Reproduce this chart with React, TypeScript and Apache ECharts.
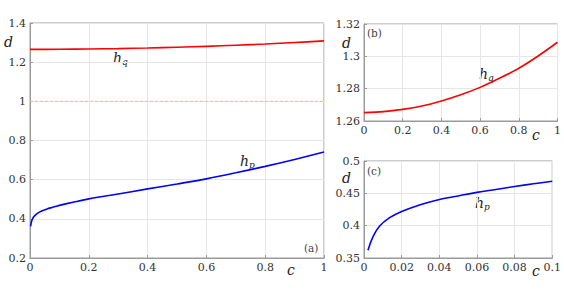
import React, { useEffect, useRef } from "react";
import * as echarts from "echarts";

const hqC = [0, 0.1, 0.2, 0.3, 0.4, 0.5, 0.6, 0.7, 0.8, 0.9, 1.0];
const hqD = [1.2652, 1.2658, 1.2672, 1.2693, 1.2724, 1.2762, 1.2808, 1.2864, 1.2926, 1.3002, 1.3087];

const hpC = [0.0021, 0.0048, 0.0082, 0.0134, 0.02, 0.029, 0.038, 0.05, 0.06, 0.07, 0.08, 0.09, 0.1, 0.15, 0.2, 0.3, 0.4, 0.5, 0.6, 0.7, 0.8, 0.9, 1.0];
const hpD = [0.362, 0.383, 0.399, 0.412, 0.422, 0.4315, 0.439, 0.446, 0.4515, 0.456, 0.4605, 0.4647, 0.4688, 0.486, 0.502, 0.527, 0.553, 0.578, 0.604, 0.635, 0.668, 0.703, 0.741];

const refC = [0, 1];
const refD = [1, 1];

const FONT = "DejaVu Serif";
const AX = "#9a9a9a";
const TXT = "#333";

function axis(gridIndex: number, min: number, max: number, interval: number) {
  return {
    type: "value",
    gridIndex,
    min,
    max,
    interval,
    axisLine: { show: true, lineStyle: { color: AX, width: 1 } },
    axisTick: { show: true, inside: true, length: 3, lineStyle: { color: AX } },
    axisLabel: { color: TXT, fontFamily: FONT, fontSize: 11, margin: 4 },
    splitLine: { show: true, lineStyle: { color: "#e6e6e6", width: 1 } },
  };
}

function lbl(x: number, y: number, base: string, sub: string) {
  return {
    type: "text",
    x,
    y,
    style: {
      text: `{a|${base}}{b|${sub}}`,
      rich: {
        a: { fontFamily: FONT, fontStyle: "italic", fontSize: 14, fill: "#222" },
        b: { fontFamily: FONT, fontStyle: "italic", fontSize: 9, fill: "#222", padding: [8, 0, 0, 0] },
      },
    },
  };
}

function it(x: number, y: number, t: string) {
  return {
    type: "text",
    x,
    y,
    style: { text: t, fontFamily: FONT, fontStyle: "italic", fontSize: 14, fill: "#222" },
  };
}

function pl(x: number, y: number, t: string) {
  return {
    type: "text",
    x,
    y,
    style: { text: t, fontFamily: FONT, fontSize: 10.5, fill: "#444" },
  };
}

export default function App() {
  const ref = useRef<HTMLDivElement>(null);
  useEffect(() => {
    if (!ref.current) return;
    const chart = echarts.init(ref.current, null, { renderer: "svg" });
    const hq = hqC.map((c, i) => [c, hqD[i]]);
    const hp = hpC.map((c, i) => [c, hpD[i]]);
    const hpSmall = hp.filter((p) => p[0] <= 0.1 + 1e-9);
    const rl = refC.map((c, i) => [c, refD[i]]);
    chart.setOption({
      animation: false,
      grid: [
        { left: 30, right: 240, top: 23, bottom: 34, show: true, borderColor: AX, borderWidth: 1 },
        { left: 364, right: 6, top: 24, bottom: 171, show: true, borderColor: AX, borderWidth: 1 },
        { left: 364, right: 6, top: 161, bottom: 34, show: true, borderColor: AX, borderWidth: 1 },
      ],
      xAxis: [axis(0, 0, 1, 0.2), axis(1, 0, 1, 0.2), axis(2, 0, 0.1, 0.02)],
      yAxis: [axis(0, 0.2, 1.4, 0.2), axis(1, 1.26, 1.32, 0.02), axis(2, 0.35, 0.5, 0.05)],
      series: [
        {
          type: "line", xAxisIndex: 0, yAxisIndex: 0, data: rl, showSymbol: false,
          lineStyle: { color: "#f2c45a", width: 1, type: [3, 2] },
        },
        {
          type: "line", xAxisIndex: 0, yAxisIndex: 0, data: hq, showSymbol: false, smooth: 0.3,
          lineStyle: { color: "#ff0000", width: 1.6 },
        },
        {
          type: "line", xAxisIndex: 0, yAxisIndex: 0, data: hp, showSymbol: false, smooth: 0.3,
          lineStyle: { color: "#0000ff", width: 1.6 },
        },
        {
          type: "line", xAxisIndex: 1, yAxisIndex: 1, data: hq, showSymbol: false, smooth: 0.3,
          lineStyle: { color: "#ff0000", width: 1.6 },
        },
        {
          type: "line", xAxisIndex: 2, yAxisIndex: 2, data: hpSmall, showSymbol: false, smooth: 0.4,
          lineStyle: { color: "#0000ff", width: 1.6 },
        },
      ],
      graphic: [
        it(4, 35, "d"),
        it(287, 263, "c"),
        it(342, 36, "d"),
        it(532, 128, "c"),
        it(342, 171, "d"),
        it(532, 264, "c"),
        lbl(113, 49, "h", "q"),
        lbl(240, 152, "h", "p"),
        lbl(479, 65, "h", "q"),
        lbl(475, 194, "h", "p"),
        pl(304, 242, "(a)"),
        pl(367, 27, "(b)"),
        pl(367, 165, "(c)"),
      ],
    });
    return () => chart.dispose();
  }, []);
  return <div ref={ref} style={{ width: 564, height: 292, position: "absolute", left: 0, top: 0, background: "#fff" }} />;
}
